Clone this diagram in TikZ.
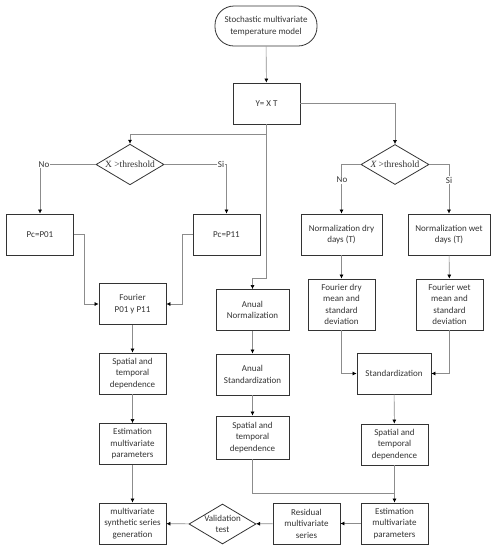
\documentclass[tikz,border=0pt]{standalone}
\usepackage{fontspec}
\setmainfont{Carlito}
\newfontfamily\thrfont{Liberation Serif}
\usetikzlibrary{arrows.meta,shapes.geometric}
\definecolor{LineClr}{rgb}{0.55,0.55,0.55}
\definecolor{BoxClr}{rgb}{0.2,0.2,0.2}

\tikzset{
  box/.style={draw=BoxClr,line width=0.8pt,minimum width=67pt,minimum height=41pt,
    inner sep=1pt,align=center,font=\fontsize{9}{11.5}\selectfont,text=BoxClr},
  rhomb/.style={draw=BoxClr,line width=0.8pt,diamond,minimum width=68pt,minimum height=40pt,
    inner sep=-4pt,align=center,font=\fontsize{9}{11.5}\selectfont,text=BoxClr},
  conn/.style={draw=LineClr,line width=0.6pt,-{Latex[length=4pt,width=4pt,black]}},
  plain/.style={draw=LineClr,line width=0.6pt},
  tag/.style={fill=white,inner sep=1pt,font=\fontsize{9}{10}\selectfont,text=BoxClr}
}

\begin{document}
\begin{tikzpicture}[x=1pt,y=-1pt]
\useasboundingbox (0,0) rectangle (496,550);

% top
\node[box,minimum width=102pt,minimum height=40pt,rounded corners=19pt] (start) at (266,26)
  {Stochastic multivariate\\temperature model};
\node[box] (yxt) at (266.5,103.5) {Y= X T};

% decisions
\node[rhomb] (dl) at (130,164.5) {\thrfont\fontsize{9.5}{11}\selectfont X >threshold};
\node[rhomb] (dr) at (395,164.5) {\thrfont\fontsize{9.5}{11}\selectfont\itshape X\upshape\ >threshold};

% left column
\node[box] (p01) at (40,234.5) {Pc=P01};
\node[box] (p11) at (226.5,234.5) {Pc=P11};
\node[box] (four) at (132.5,304) {Fourier\\P01 y P11};
\node[box] (sp1) at (132.5,373.5) {Spatial and\\temporal\\dependence};
\node[box] (est1) at (132.5,444) {Estimation\\multivariate\\parameters};
\node[box] (gen) at (132.5,523.5) {multivariate\\synthetic series\\generation};

% middle column
\node[box,minimum width=73pt] (anorm) at (252.5,310) {Anual\\Normalization};
\node[box,minimum width=73pt] (astd) at (252.5,374.5) {Anual\\Standardization};
\node[box,minimum width=73pt,minimum height=43pt] (sp2) at (252.5,437.5) {Spatial and\\temporal\\dependence};

% right column
\node[box,minimum width=81pt] (ndry) at (341.5,234.5) {Normalization dry\\days (T)};
\node[box,minimum width=82pt] (nwet) at (449,234.5) {Normalization wet\\days (T)};
\node[box,minimum height=51pt] (fdry) at (341.5,304.5) {Fourier dry\\mean and\\standard\\deviation};
\node[box,minimum height=51pt] (fwet) at (449.5,304.5) {Fourier wet\\mean and\\standard\\deviation};
\node[box,minimum width=74pt] (std) at (394,373.5) {Standardization};
\node[box] (sp3) at (394.5,444.5) {Spatial and\\temporal\\dependence};
\node[box] (est3) at (394.5,523.5) {Estimation\\multivariate\\parameters};
\node[box] (res) at (306.5,523.5) {Residual\\multivariate\\series};
\node[rhomb,minimum width=67pt] (val) at (222.5,524) {Validation\\test};
\coordinate (join) at (394.5,493);

% connectors
\draw[conn] (start) -- (yxt);
\draw[conn] (yxt.south) -- ++(0,10) -| (dl.north);
\draw[conn] (yxt.east) -| (dr.north);
\draw[conn] (yxt.south) -- ++(0,154) -| (anorm.north);

\draw[conn] (dl.west) -| (p01.north);
\draw[conn] (dl.east) -| (p11.north);
\draw[conn] (dr.west) -| (ndry.north);
\draw[conn] (dr.east) -| (nwet.north);

\draw[conn] (p01.east) -- ++(10,0) |- (four.west);
\draw[conn] (p11.west) -- ++(-10,0) |- (four.east);
\draw[conn] (four) -- (sp1);
\draw[conn] (sp1) -- (est1);
\draw[conn] (est1) -- (gen);

\draw[conn] (anorm) -- (astd);
\draw[conn] (astd) -- (sp2);
\draw[plain] (sp2.south) |- (join);

\draw[conn] (ndry) -- (fdry);
\draw[conn] (nwet) -- (fwet);
\draw[conn] (fdry.south) |- (std.west);
\draw[conn] (fwet.south) |- (std.east);
\draw[conn] (std) -- (sp3);
\draw[conn] (sp3) -- (est3);
\draw[conn] (est3) -- (res);
\draw[conn] (res) -- (val);
\draw[conn] (val) -- (gen);

% branch labels
\node[tag] (no1) at (44,164.5) {No};
\node[tag] (si1) at (221,164.5) {Si};
\node[tag] (no2) at (342,180) {No};
\node[tag] (si2) at (449,180) {Si};
\end{tikzpicture}
\end{document}
